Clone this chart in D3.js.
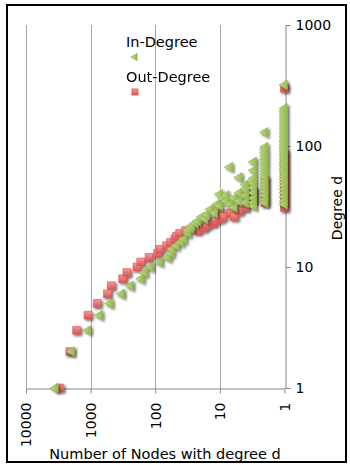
<!DOCTYPE html>
<html>
<head>
<meta charset="utf-8">
<script src="https://cdn.jsdelivr.net/npm/d3@7"></script>
<style>
	html, body { margin: 0; padding: 0; background: #fff; }
	text { font-family: 'DejaVu Sans', Verdana, sans-serif; fill: #000; }
</style>
</head>
<body>
<script>
// series: [number of nodes, degree]
const seriesNames = ['In-Degree', 'Out-Degree'];

const inDegree = [
	[3500, 1], [1950, 2], [1090, 3], [720, 4], [500, 5], [330, 6], [240, 7], [165, 8], [145, 9], [118, 10],
	[85, 11], [63, 12], [57, 13], [55, 14], [47, 15], [40, 16], [36, 17], [31, 19], [31, 20], [28, 21],
	[27, 22], [24, 23], [22, 24], [19, 26], [17, 25], [16, 27], [14, 30], [12, 28], [11, 33], [10, 32],
	[10, 40], [9, 37], [8, 39], [8, 35], [7, 67], [7, 33], [6, 37], [6, 31], [5, 55], [5, 41], [5, 35],
	[4, 48], [4, 44], [4, 39], [4, 34], [3, 74], [3, 63], [3, 54], [3, 49], [3, 45], [3, 41], [3, 37],
	[3, 34], [3, 32],
	[2, 130], [2, 98], [2, 93], [2, 88], [2, 83], [2, 78], [2, 74], [2, 70], [2, 66], [2, 62], [2, 58],
	[2, 55], [2, 51], [2, 48], [2, 45], [2, 42], [2, 39], [2, 36], [2, 34],
	[1, 320], [1, 205], [1, 195], [1, 186], [1, 177], [1, 168], [1, 160], [1, 152], [1, 145], [1, 138],
	[1, 131], [1, 125], [1, 119], [1, 113], [1, 108], [1, 103], [1, 98], [1, 94], [1, 90], [1, 86],
	[1, 82], [1, 78], [1, 74], [1, 71], [1, 68], [1, 65], [1, 62], [1, 59], [1, 56], [1, 53], [1, 50],
	[1, 47], [1, 44], [1, 41], [1, 38], [1, 35], [1, 33]
];

const outDegree = [
	[3000, 1], [2100, 2], [1650, 3], [1100, 4], [790, 5], [550, 6], [480, 7], [320, 8], [275, 9], [192, 10],
	[168, 11], [125, 12], [92, 13], [85, 14], [67, 15], [58, 16], [50, 17], [47, 18], [42, 19], [34, 20],
	[22, 20], [18, 21], [16, 22], [13, 23], [12, 24], [10, 28], [10, 25], [9, 26], [7, 28], [6, 26],
	[5, 30], [5, 29], [4, 31], [3, 36], [3, 42], [2, 34], [2, 36], [2, 40], [2, 45], [2, 52],
	[1, 31], [1, 33], [1, 36], [1, 40], [1, 43], [1, 46], [1, 49], [1, 52], [1, 56], [1, 59], [1, 63],
	[1, 70], [1, 78], [1, 86], [1, 300]
];

const xTicks = [10000, 1000, 100, 10, 1];
const yTicks = [1, 10, 100, 1000];
const xTitle = 'Number of Nodes with degree d';
const yTitle = 'Degree d';

const width = 350;
const height = 465;
const plot = { left: 26, right: 284.5, top: 25, bottom: 388 };
const fontSize = 14;

const svg = d3.select('body')
	.append('svg')
	.attr('width', width)
	.attr('height', height);

const defs = svg.append('defs');
defs.append('filter')
	.attr('id', 'shadow')
	.attr('x', '-50%').attr('y', '-50%')
	.attr('width', '200%').attr('height', '200%')
	.append('feDropShadow')
	.attr('dx', 1.6).attr('dy', 1.6)
	.attr('stdDeviation', 1.3)
	.attr('flood-color', '#000')
	.attr('flood-opacity', 0.6);

function addGradient(id, c1, c2) {
	const g = defs.append('linearGradient').attr('id', id)
		.attr('x1', 0).attr('y1', 0).attr('x2', 0).attr('y2', 1);
	g.append('stop').attr('offset', '0%').attr('stop-color', c1);
	g.append('stop').attr('offset', '100%').attr('stop-color', c2);
}
addGradient('greenFill', '#c4de8c', '#94ba4f');
addGradient('redFill', '#f39a98', '#dc5553');

// frame
svg.append('rect')
	.attr('x', 7).attr('y', 5)
	.attr('width', 339).attr('height', 457)
	.attr('fill', 'none')
	.attr('stroke', '#000')
	.attr('stroke-width', 2);

const xScale = d3.scaleLog().domain([10000, 1]).range([plot.left, plot.right]);
const yScale = d3.scaleLog().domain([1, 1000]).range([plot.bottom, plot.top]);

// vertical gridlines
svg.append('g')
	.selectAll('line')
	.data(xTicks.slice(0, -1))
	.enter()
	.append('line')
	.attr('x1', (d) => Math.round(xScale(d)) + 0.5)
	.attr('x2', (d) => Math.round(xScale(d)) + 0.5)
	.attr('y1', plot.top)
	.attr('y2', plot.bottom)
	.attr('stroke', '#a6a6a6')
	.attr('stroke-width', 1);

// x axis
const xAxis = d3.axisBottom(xScale)
	.tickValues(xTicks)
	.tickFormat(d3.format('d'))
	.tickSize(5)
	.tickSizeOuter(0);
const xAxisSel = svg.append('g')
	.attr('transform', 'translate(0,' + (plot.bottom + 0.5) + ')')
	.call(xAxis);
xAxisSel.selectAll('.tick text')
	.attr('transform', 'rotate(-90)')
	.attr('x', -14)
	.attr('y', 0)
	.attr('dy', '0.35em')
	.attr('text-anchor', 'end')
	.style('font-size', fontSize + 'px')
	.style('font-family', "'DejaVu Sans', Verdana, sans-serif");

// y axis on the right
const yAxis = d3.axisRight(yScale)
	.tickValues(yTicks)
	.tickFormat(d3.format('d'))
	.tickSize(5)
	.tickPadding(5)
	.tickSizeOuter(0);
const yAxisSel = svg.append('g')
	.attr('transform', 'translate(' + (Math.round(plot.right) + 0.5) + ',0)')
	.call(yAxis);
yAxisSel.selectAll('.tick text')
	.style('font-size', fontSize + 'px')
	.style('font-family', "'DejaVu Sans', Verdana, sans-serif");

svg.selectAll('.domain, .tick line').attr('stroke', '#868686');

// titles
svg.append('text')
	.attr('x', 165)
	.attr('y', 459)
	.attr('text-anchor', 'middle')
	.style('font-size', '14.5px')
	.text(xTitle);

svg.append('text')
	.attr('transform', 'translate(342,' + 208 + ') rotate(-90)')
	.attr('text-anchor', 'middle')
	.style('font-size', fontSize + 'px')
	.text(yTitle);

const triangle = d3.symbol().type(d3.symbolTriangle).size(40);
const square = d3.symbol().type(d3.symbolSquare).size(60);

// Out-Degree first, In-Degree drawn over it
svg.append('g')
	.attr('filter', 'url(#shadow)')
	.selectAll('path')
	.data(outDegree)
	.enter()
	.append('path')
	.attr('d', square)
	.attr('transform', (d) => 'translate(' + xScale(d[0]) + ',' + yScale(d[1]) + ')')
	.attr('fill', 'url(#redFill)')
	.attr('stroke', '#d9534f')
	.attr('stroke-width', 0.6);

svg.append('g')
	.attr('filter', 'url(#shadow)')
	.selectAll('path')
	.data(inDegree)
	.enter()
	.append('path')
	.attr('d', triangle)
	.attr('transform', (d) => 'translate(' + xScale(d[0]) + ',' + yScale(d[1]) + ') rotate(-90)')
	.attr('fill', 'url(#greenFill)')
	.attr('stroke', '#8fb34c')
	.attr('stroke-width', 0.6);

// legend
const legend = svg.append('g');
legend.append('text').attr('x', 126).attr('y', 47).style('font-size', '14.5px').text(seriesNames[0]);
legend.append('path')
	.attr('d', d3.symbol().type(d3.symbolTriangle).size(24))
	.attr('transform', 'translate(135,57) rotate(-90)')
	.attr('fill', 'url(#greenFill)')
	.attr('stroke', '#8fb34c')
	.attr('stroke-width', 0.6);
legend.append('text').attr('x', 126).attr('y', 82).style('font-size', '14.5px').text(seriesNames[1]);
legend.append('path')
	.attr('d', d3.symbol().type(d3.symbolSquare).size(40))
	.attr('transform', 'translate(135,92)')
	.attr('fill', 'url(#redFill)')
	.attr('stroke', '#d9534f')
	.attr('stroke-width', 0.6);
</script>
</body>
</html>
